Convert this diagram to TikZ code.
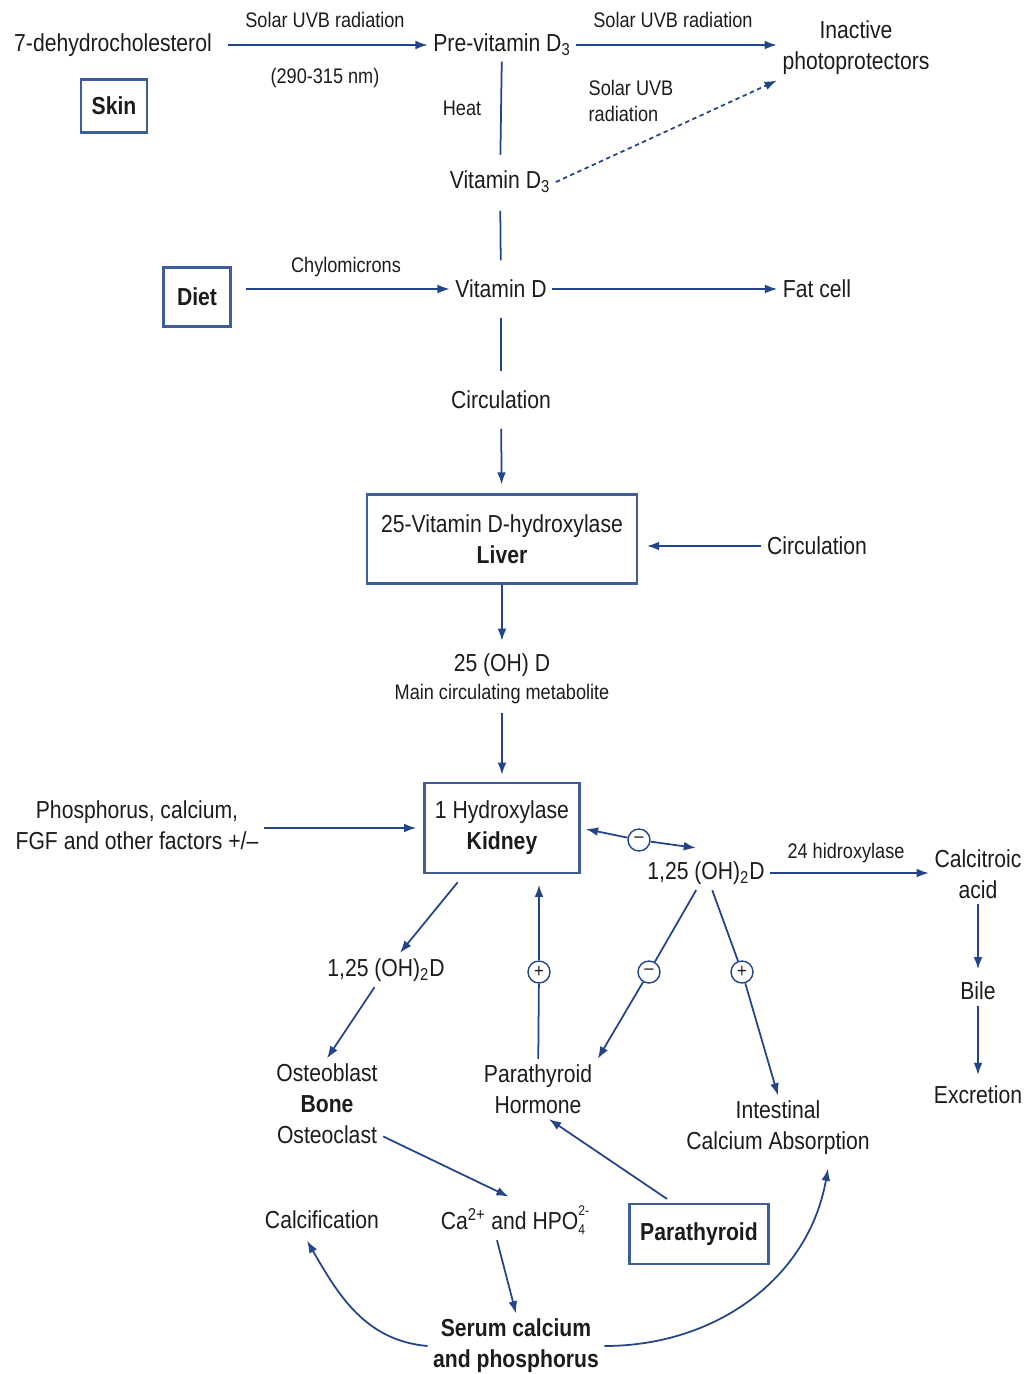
\documentclass[tikz,border=0pt]{standalone}
\usepackage{fontspec}
\setmainfont{Liberation Sans}[FakeStretch=0.86]
\usetikzlibrary{arrows.meta,calc}
\definecolor{flowblue}{HTML}{24448A}
\definecolor{boxblue}{HTML}{3D5E98}
\definecolor{ink}{HTML}{1C1C1C}
\tikzset{
  txt/.style={font=\fontsize{14}{17.6}\selectfont, text=ink, align=center, inner sep=3pt},
  small/.style={font=\fontsize{12}{15.3}\selectfont, text=ink, align=center, inner sep=1pt},
  organ/.style={txt, draw=boxblue, line width=1.3pt},
  flow/.style={draw=flowblue, line width=1pt, -{Latex[length=7pt,width=5pt]}},
  link/.style={draw=flowblue, line width=1pt},
  sgn/.style={circle, draw=flowblue, line width=0.8pt, fill=white, text=ink, inner sep=0pt,
    minimum size=0.44cm, font=\fontsize{11}{11}\selectfont}
}
\newcommand{\ionlbl}[2]{\rlap{\raisebox{-0.4ex}{\fontsize{8}{8}\selectfont #1}}\raisebox{1.1ex}{\fontsize{8}{8}\selectfont #2}}

\begin{document}
\begin{tikzpicture}[x=0.02cm, y=0.02cm]
  \useasboundingbox (0,0) rectangle (1031,-1374);

  % skin and sunlight
  \node [txt] (dhc) at (113,-45) {7-dehydrocholesterol};
  \node [organ, minimum width=1.32cm, minimum height=1.06cm] (skin) at (114,-106) {\textbf{Skin}};
  \node [txt] (previt) at (502,-45) {Pre-vitamin D\textsubscript{3}};
  \node [txt] (inact) at (856,-48) {Inactive\\photoprotectors};
  \node [small] (uvb1) at (325,-20) {Solar UVB radiation};
  \node [small] (nm) at (325,-78) {(290-315 nm)};
  \node [small] (uvb2) at (673,-20) {Solar UVB radiation};
  \node [small, align=left] (uvb3) at (631,-101) {Solar UVB\\radiation};
  \node [small] (heat) at (462,-108) {Heat};
  \node [txt] (vitd3) at (500,-182) {Vitamin D\textsubscript{3}};

  % diet
  \node [organ, minimum width=1.34cm, minimum height=1.18cm] (diet) at (197,-297) {\textbf{Diet}};
  \node [small] (chylo) at (346,-267) {Chylomicrons};
  \node [txt] (vitd) at (501,-289) {Vitamin D};
  \node [txt] (fat) at (817,-289) {Fat cell};
  \node [txt] (circ) at (501,-400) {Circulation};

  % liver
  \node [organ, minimum width=5.4cm, minimum height=1.78cm] (liver) at (502,-539)
    {25-Vitamin D-hydroxylase\\\textbf{Liver}};
  \node [txt] (circliv) at (817,-546) {Circulation};
  \node [txt] (ohd) at (502,-665) {25 (OH) D};
  \node [small] (metab) at (502,-694) {Main circulating metabolite};

  % kidney
  \node [organ, minimum width=3.1cm, minimum height=1.8cm] (kidney) at (502,-828)
    {1 Hydroxylase\\\textbf{Kidney}};
  \node [txt] (factors) at (137,-825) {Phosphorus, calcium,\\FGF and other factors +/\textendash};
  \node [sgn] (s1) at (639,-840) {\textendash};
  \node [txt] (ohdr) at (706,-873) {1,25 (OH)\textsubscript{2}D};
  \node [small] (hydrox) at (846,-853) {24 hidroxylase};
  \node [txt] (calc) at (978,-874) {Calcitroic\\acid};
  \node [txt] (bile) at (978,-991) {Bile};
  \node [txt] (excr) at (978,-1095) {Excretion};
  \node [txt] (ohdl) at (386,-970) {1,25 (OH)\textsubscript{2}D};

  % targets
  \node [txt] (bone) at (327,-1104) {Osteoblast\\\textbf{Bone}\\Osteoclast};
  \node [sgn] (s3) at (539,-972) {+};
  \node [txt] (pth) at (538,-1089) {Parathyroid\\Hormone};
  \node [sgn] (s2) at (649,-972) {\textendash};
  \node [sgn] (s4) at (742,-972) {+};
  \node [txt] (intest) at (778,-1128) {Intestinal\\Calcium Absorption};
  \node [txt] (calcif) at (322,-1220) {Calcification};
  \node [txt] (ca) at (515,-1220) {Ca\textsuperscript{2+} and HPO\ionlbl{4}{2-}};
  \node [organ, minimum width=2.78cm, minimum height=1.2cm] (parat) at (699,-1234) {\textbf{Parathyroid}};
  \node [txt, font=\fontsize{14}{17.6}\selectfont\bfseries] (serum) at (516,-1346)
    {Serum calcium\\and phosphorus};

  % connectors
  \draw [flow, shorten <=6pt] (dhc) -- (previt);
  \draw [flow] (previt) -- (previt -| inact.west);
  \draw [flow, dash pattern=on 2.5pt off 2pt] (vitd3.east) -- (inact.south west);
  \draw [link, shorten >=6pt] (previt) -- (vitd3);
  \draw [link, shorten <=7pt, shorten >=8pt] (vitd3) -- (vitd);
  \draw [flow, shorten <=8pt] (diet.east |- vitd) -- (vitd);
  \draw [flow] (vitd) -- (fat);
  \draw [link, shorten <=8pt, shorten >=8pt] (vitd) -- (circ);
  \draw [flow, shorten <=8pt, shorten >=5pt] (circ) -- (liver);
  \draw [flow, shorten >=5pt] (circliv) -- (circliv -| liver.east);
  \draw [flow, shorten >=4pt] (liver) -- (ohd);
  \draw [flow, shorten <=4pt, shorten >=4pt] (metab) -- (kidney);
  \draw [flow, shorten >=4pt] (factors.east |- kidney) -- (kidney);
  \draw [flow, shorten >=3pt] (s1) -- (kidney.east);
  \draw [flow] (s1) -- ($(ohdr.north)+(-10,8)$);
  \draw [flow] (ohdr) -- (ohdr -| calc.west);
  \draw [flow, shorten >=4pt] (calc) -- (bile);
  \draw [flow, shorten >=3pt] (bile) -- (excr);
  \draw [flow, shorten <=6pt] (kidney) -- (ohdl);
  \draw [flow] (ohdl) -- (bone.north);
  \draw [link] (pth) -- (s3);
  \draw [flow, shorten >=6pt] (s3) -- (s3 |- kidney.south);
  \draw [link] (ohdr) -- (s2);
  \draw [flow] (s2) -- (pth.north east);
  \draw [link] (ohdr) -- (s4);
  \draw [flow] (s4) -- (intest.north);
  \draw [flow, shorten >=4pt] (bone.-30) -- (ca.north);
  \draw [flow, shorten <=4pt] (parat.130) -- (pth.-70);
  \draw [flow] ($(ca.south)+(-18,0)$) -- (serum.north);
  \draw [flow] (serum.west) to[out=175, in=-60] ($(calcif.south)+(-15,-6)$);
  \draw [flow] (serum.east) to[out=0, in=-100] ($(intest.south)+(50,-8)$);
\end{tikzpicture}
\end{document}
